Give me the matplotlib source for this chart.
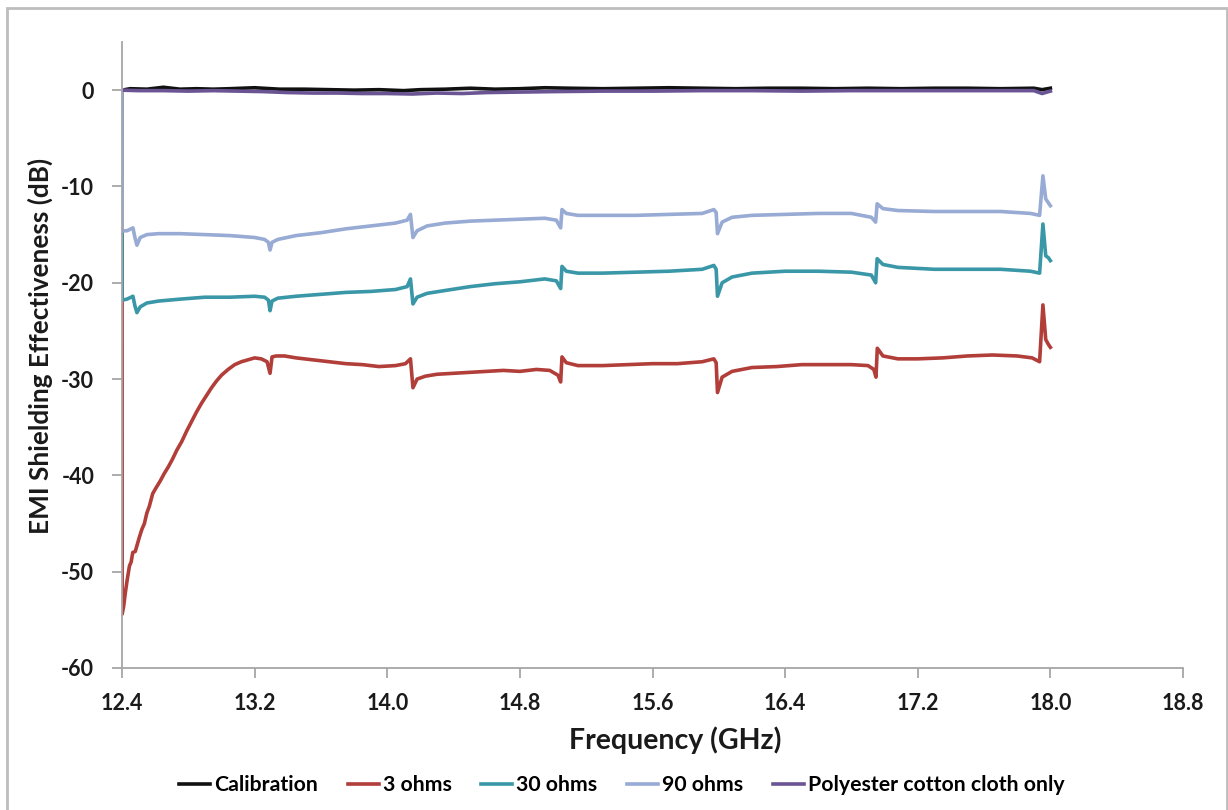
import matplotlib
matplotlib.use("Agg")
import matplotlib.pyplot as plt
from matplotlib.patches import Rectangle

plt.rcParams['font.family'] = ['Lato', 'DejaVu Sans']
plt.rcParams['font.weight'] = 'bold'

# ---- measured shielding effectiveness (dB) vs frequency (GHz) ----
calib_f = [12.40, 12.45, 12.55, 12.65, 12.75, 12.85, 12.95, 13.05, 13.20, 13.35,
           13.50, 13.65, 13.80, 13.95, 14.10, 14.20, 14.35, 14.50, 14.65, 14.80,
           14.95, 15.10, 15.30, 15.50, 15.70, 15.90, 16.10, 16.30, 16.50, 16.70,
           16.90, 17.10, 17.30, 17.50, 17.70, 17.90, 17.95, 18.00]
calib_db = [0.00, 0.15, 0.10, 0.30, 0.10, 0.15, 0.10, 0.15, 0.25, 0.10,
            0.10, 0.05, 0.00, 0.05, -0.05, 0.05, 0.10, 0.20, 0.10, 0.15,
            0.25, 0.20, 0.15, 0.20, 0.25, 0.20, 0.15, 0.20, 0.20, 0.15,
            0.20, 0.15, 0.20, 0.20, 0.15, 0.20, 0.05, 0.20]

ohm3_f = [12.400, 12.401, 12.410, 12.420, 12.430, 12.445, 12.455, 12.465, 12.480,
          12.490, 12.505, 12.520, 12.535, 12.550, 12.565, 12.585, 12.605, 12.630,
          12.655, 12.680, 12.705, 12.730, 12.760, 12.790, 12.820, 12.850, 12.880,
          12.910, 12.940, 12.970, 13.000, 13.040, 13.080, 13.120, 13.160, 13.200,
          13.240, 13.275, 13.293, 13.305, 13.330, 13.380, 13.450, 13.550, 13.650,
          13.750, 13.850, 13.950, 14.050, 14.110, 14.140, 14.155, 14.180, 14.230,
          14.300, 14.400, 14.500, 14.600, 14.700, 14.800, 14.900, 14.980, 15.030,
          15.046, 15.054, 15.080, 15.150, 15.300, 15.450, 15.600, 15.750, 15.900,
          15.970, 15.984, 15.992, 16.020, 16.080, 16.200, 16.350, 16.500, 16.650,
          16.800, 16.900, 16.935, 16.948, 16.956, 16.990, 17.080, 17.200, 17.350,
          17.500, 17.650, 17.800, 17.890, 17.935, 17.955, 17.972, 17.988, 18.000]
ohm3_db = [0.0, -54.4, -53.6, -52.2, -51.0, -49.4, -49.0, -48.0, -47.9,
           -47.3, -46.4, -45.6, -45.0, -43.9, -43.2, -41.9, -41.3, -40.6,
           -39.8, -39.1, -38.3, -37.4, -36.5, -35.4, -34.4, -33.4, -32.5,
           -31.7, -30.9, -30.2, -29.6, -29.0, -28.5, -28.2, -28.0, -27.8,
           -27.9, -28.2, -29.4, -27.7, -27.6, -27.6, -27.8, -28.0, -28.2,
           -28.4, -28.5, -28.7, -28.6, -28.4, -27.9, -30.9, -30.0, -29.7,
           -29.5, -29.4, -29.3, -29.2, -29.1, -29.2, -29.0, -29.1, -29.6,
           -30.3, -27.7, -28.3, -28.6, -28.6, -28.5, -28.4, -28.4, -28.2,
           -27.9, -28.3, -31.4, -29.8, -29.2, -28.8, -28.7, -28.5, -28.5,
           -28.5, -28.6, -29.0, -29.8, -26.8, -27.6, -27.9, -27.9, -27.8,
           -27.6, -27.5, -27.6, -27.8, -28.2, -22.3, -25.9, -26.4, -26.7]

ohm30_f = [12.400, 12.401, 12.430, 12.466, 12.478, 12.490, 12.510, 12.550, 12.620,
           12.750, 12.900, 13.050, 13.200, 13.260, 13.283, 13.293, 13.305, 13.340,
           13.450, 13.600, 13.750, 13.900, 14.050, 14.120, 14.140, 14.155, 14.180,
           14.240, 14.350, 14.500, 14.650, 14.800, 14.950, 15.020, 15.046, 15.054,
           15.080, 15.150, 15.300, 15.500, 15.700, 15.900, 15.970, 15.984, 15.992,
           16.020, 16.080, 16.200, 16.400, 16.600, 16.800, 16.920, 16.946, 16.955,
           16.990, 17.080, 17.300, 17.500, 17.700, 17.880, 17.935, 17.955, 17.972,
           17.988, 18.000]
ohm30_db = [0.0, -21.8, -21.7, -21.4, -22.4, -23.1, -22.5, -22.1, -21.9,
            -21.7, -21.5, -21.5, -21.4, -21.5, -21.8, -22.9, -21.9, -21.6,
            -21.4, -21.2, -21.0, -20.9, -20.7, -20.4, -19.6, -22.2, -21.5,
            -21.1, -20.8, -20.4, -20.1, -19.9, -19.6, -19.8, -20.6, -18.3,
            -18.8, -19.0, -19.0, -18.9, -18.8, -18.6, -18.2, -18.6, -21.4,
            -20.0, -19.4, -19.0, -18.8, -18.8, -18.9, -19.2, -20.0, -17.5,
            -18.1, -18.4, -18.6, -18.6, -18.6, -18.8, -19.0, -13.9, -17.2,
            -17.4, -17.7]

ohm90_f = [12.400, 12.401, 12.430, 12.466, 12.478, 12.490, 12.510, 12.550, 12.620,
           12.750, 12.900, 13.050, 13.200, 13.260, 13.283, 13.293, 13.305, 13.340,
           13.450, 13.600, 13.750, 13.900, 14.050, 14.120, 14.140, 14.155, 14.180,
           14.240, 14.350, 14.500, 14.650, 14.800, 14.950, 15.020, 15.046, 15.054,
           15.080, 15.150, 15.300, 15.500, 15.700, 15.900, 15.970, 15.984, 15.992,
           16.020, 16.080, 16.200, 16.400, 16.600, 16.800, 16.920, 16.946, 16.955,
           16.990, 17.080, 17.300, 17.500, 17.700, 17.880, 17.935, 17.955, 17.972,
           17.988, 18.000]
ohm90_db = [0.0, -14.6, -14.6, -14.3, -15.3, -16.1, -15.3, -15.0, -14.9,
            -14.9, -15.0, -15.1, -15.3, -15.5, -15.8, -16.6, -15.8, -15.5,
            -15.1, -14.8, -14.4, -14.1, -13.8, -13.5, -12.9, -15.3, -14.6,
            -14.1, -13.8, -13.6, -13.5, -13.4, -13.3, -13.5, -14.3, -12.4,
            -12.8, -13.0, -13.0, -13.0, -12.9, -12.8, -12.4, -12.7, -14.9,
            -13.7, -13.2, -13.0, -12.9, -12.8, -12.8, -13.2, -13.7, -11.8,
            -12.3, -12.5, -12.6, -12.6, -12.6, -12.8, -13.0, -8.9, -11.3,
            -11.7, -12.0]

cloth_f = [12.40, 12.50, 12.65, 12.80, 12.95, 13.10, 13.25, 13.40, 13.55, 13.70,
           13.85, 14.00, 14.15, 14.30, 14.45, 14.60, 14.80, 15.00, 15.30, 15.60,
           15.90, 16.20, 16.50, 16.80, 17.10, 17.40, 17.70, 17.90, 17.95, 18.00]
cloth_db = [0.00, -0.05, -0.05, -0.10, -0.05, -0.10, -0.15, -0.25, -0.30, -0.30,
            -0.35, -0.35, -0.40, -0.30, -0.35, -0.25, -0.20, -0.15, -0.10, -0.10,
            -0.05, -0.05, -0.10, -0.05, -0.05, -0.05, -0.05, -0.05, -0.35, -0.10]

series = [
    ("Calibration", calib_f, calib_db, "#111111"),
    ("3 ohms", ohm3_f, ohm3_db, "#B23E3A"),
    ("30 ohms", ohm30_f, ohm30_db, "#3A97A8"),
    ("90 ohms", ohm90_f, ohm90_db, "#98ABD4"),
    ("Polyester cotton cloth only", cloth_f, cloth_db, "#6A5494"),
]

x_ticks = [12.4, 13.2, 14.0, 14.8, 15.6, 16.4, 17.2, 18.0, 18.8]
y_ticks = [-60, -50, -40, -30, -20, -10, 0]

W, H = 1228, 810
fig = plt.figure(figsize=(W / 100, H / 100), dpi=100)
fig.patch.set_facecolor("white")

# outer chart frame
fig.patches.append(Rectangle((7 / W, -0.01), (1227 - 7) / W, 1.0 - 8 / H + 0.01,
                             transform=fig.transFigure, fill=False,
                             edgecolor="#BDBDBD", linewidth=2.0))

ax = fig.add_axes([122 / W, 1 - 668 / H, (1183 - 122) / W, (668 - 42) / H])

for name, f, v, c in series:
    ax.plot(f, v, color=c, linewidth=2.6, label=name, solid_joinstyle="round")

ax.set_xlim(12.4, 18.8)
ax.set_ylim(-60, 5)
ax.set_xticks(x_ticks)
ax.set_xticklabels([f"{t:.1f}" for t in x_ticks])
ax.set_yticks(y_ticks)
ax.set_yticklabels([str(t) for t in y_ticks])

for s in ("top", "right"):
    ax.spines[s].set_visible(False)
for s in ("left", "bottom"):
    ax.spines[s].set_color("#A6A6A6")
    ax.spines[s].set_linewidth(1.3)

ax.tick_params(axis="both", direction="out", length=7, width=1.3, color="#A6A6A6",
               labelsize=15.5, labelcolor="#1a1a1a")
ax.tick_params(axis="y", pad=13)
ax.tick_params(axis="x", pad=11)
for lbl in ax.get_xticklabels() + ax.get_yticklabels():
    lbl.set_fontweight("bold")

fig.text(675 / W, 1 - 740 / H, "Frequency (GHz)", ha="center", va="center",
         fontsize=20.5, fontweight="bold", color="#1a1a1a")
fig.text(40 / W, 1 - 346 / H, "EMI Shielding Effectiveness (dB)", ha="center",
         va="center", rotation=90, fontsize=18.8, fontweight="bold", color="#1a1a1a")

handles, labels = ax.get_legend_handles_labels()
fig.legend(handles, labels, loc="center", bbox_to_anchor=(622 / W, 1 - 785 / H),
           ncol=5, frameon=False, handlelength=1.45,
           handletextpad=0.2, columnspacing=1.4,
           prop={"weight": "bold", "size": 15.3})

fig.savefig("out.png", dpi=100, facecolor="white")
